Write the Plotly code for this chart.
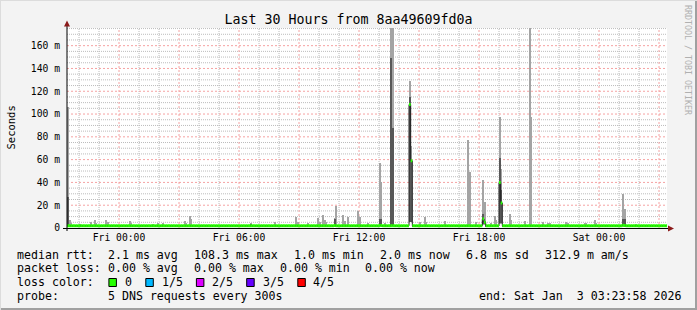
import plotly.graph_objects as go
import pandas as pd

# ---------------- data ----------------
END = pd.Timestamp("2026-01-03 03:23:58")
START = END - pd.Timedelta(hours=30)
STEP = pd.Timedelta(minutes=5)

# quiet-interval smoke (ms): sorted pings p1..p5 (p3 = median)
BASE_P1, BASE_P2, BASE_MED, BASE_P4, BASE_P5 = 1.2, 1.6, 2.0, 2.4, 3.0

# notable intervals (interval start) and their sorted ping values (ms)
EVENT_TIME = [
    "2026-01-01 21:25", "2026-01-01 21:30", "2026-01-01 21:35", "2026-01-01 22:00",
    "2026-01-01 22:35", "2026-01-01 22:45", "2026-01-01 22:50", "2026-01-01 23:20",
    "2026-01-01 23:25", "2026-01-02 00:30", "2026-01-02 00:35", "2026-01-02 01:05",
    "2026-01-02 01:40", "2026-01-02 01:55", "2026-01-02 02:10", "2026-01-02 03:15",
    "2026-01-02 03:20", "2026-01-02 03:30", "2026-01-02 03:35", "2026-01-02 06:35",
    "2026-01-02 07:45", "2026-01-02 08:50", "2026-01-02 08:55", "2026-01-02 09:25",
    "2026-01-02 09:55", "2026-01-02 10:00", "2026-01-02 10:10", "2026-01-02 10:15",
    "2026-01-02 10:20", "2026-01-02 10:45", "2026-01-02 10:50", "2026-01-02 11:10",
    "2026-01-02 11:15", "2026-01-02 11:25", "2026-01-02 11:55", "2026-01-02 12:00",
    "2026-01-02 12:25", "2026-01-02 13:00", "2026-01-02 13:05", "2026-01-02 13:15",
    "2026-01-02 13:35", "2026-01-02 13:40", "2026-01-02 14:30", "2026-01-02 14:35",
    "2026-01-02 15:00", "2026-01-02 15:15", "2026-01-02 15:20", "2026-01-02 16:15",
    "2026-01-02 17:25", "2026-01-02 17:30", "2026-01-02 17:50", "2026-01-02 18:10",
    "2026-01-02 18:15", "2026-01-02 18:35", "2026-01-02 18:45", "2026-01-02 18:50",
    "2026-01-02 19:00", "2026-01-02 19:05", "2026-01-02 19:30", "2026-01-02 19:35",
    "2026-01-02 20:00", "2026-01-02 20:15", "2026-01-02 20:30", "2026-01-02 20:35",
    "2026-01-02 21:10", "2026-01-02 21:25", "2026-01-02 21:30", "2026-01-02 22:20",
    "2026-01-02 22:25", "2026-01-02 23:15", "2026-01-02 23:20", "2026-01-02 23:45",
    "2026-01-02 23:50", "2026-01-03 01:10", "2026-01-03 01:15", "2026-01-03 01:50",
]
EVENT_P5 = [
    106, 7, 4.6, 3.5, 5, 7, 4, 7, 5, 6, 4.5, 3, 3.5, 4, 4, 6.4, 4, 10.5, 7.5, 4.6,
    5.5, 10, 5, 4, 8.7, 5, 11.4, 7, 5.5, 8.5, 19, 11.4, 6, 9.6, 15, 10, 4, 57, 40, 4,
    190, 190, 129, 72, 5, 9.6, 5, 6, 77, 49, 5, 42, 23, 4, 10.5, 7, 97, 51.6, 12, 7,
    3, 6, 190, 97, 5.5, 4, 4, 5, 4, 4.6, 4, 7, 4, 29.5, 16.6, 3.5,
]
EVENT_P4 = [
    27, 2.6, 2.5, 2.4, 2.4, 2.6, 2.4, 2.6, 2.4, 2.5, 2.4, 2.4, 2.4, 2.4, 2.4, 2.6, 2.4, 2.8, 2.6, 3.5,
    2.5, 2.8, 2.5, 2.4, 2.6, 2.4, 2.8, 2.6, 2.5, 7.8, 2.8, 2.8, 2.5, 2.6, 2.8, 2.6, 2.4, 8, 8, 2.4,
    149, 88, 115, 60, 2.4, 2.6, 2.4, 2.5, 2.8, 2.8, 2.4, 12, 6, 2.4, 2.8, 2.6, 61.5, 33, 2.8, 2.6,
    2.4, 2.5, 2.4, 2.4, 3, 2.4, 2.4, 2.5, 2.4, 2.5, 2.4, 2.6, 2.4, 7.6, 7.6, 2.4,
]
EVENT_MED = [
    2.0, 2.0, 2.0, 2.0, 2.0, 2.0, 2.0, 2.0, 2.0, 2.0, 2.0, 2.0, 2.0, 2.0, 2.0, 2.0, 2.0, 2.0, 2.0, 2.0,
    2.0, 2.0, 2.0, 2.0, 2.0, 2.0, 2.0, 2.0, 2.0, 2.2, 2.0, 2.0, 2.0, 2.0, 2.0, 2.0, 2.0, 2.2, 2.2, 2.0,
    2.0, 2.0, 108.3, 59, 2.0, 2.0, 2.0, 2.0, 2.0, 2.0, 2.0, 8, 5, 2.0, 2.0, 2.0, 40, 22, 2.0, 2.0,
    2.0, 2.0, 2.0, 2.0, 2.0, 2.0, 2.0, 2.0, 2.0, 2.0, 2.0, 2.0, 2.0, 2.4, 2.2, 2.0,
]
EVENT_P2 = [
    1.6, 1.6, 1.6, 1.6, 1.6, 1.6, 1.6, 1.6, 1.6, 1.6, 1.6, 1.6, 1.6, 1.6, 1.6, 1.6, 1.6, 1.6, 1.6, 1.6,
    1.6, 1.6, 1.6, 1.6, 1.6, 1.6, 1.6, 1.6, 1.6, 1.6, 1.6, 1.6, 1.6, 1.6, 1.6, 1.6, 1.6, 1.6, 1.6, 1.6,
    1.6, 1.6, 5.5, 5.5, 1.6, 1.6, 1.6, 1.6, 1.6, 1.6, 1.6, 3.5, 3.5, 1.6, 1.6, 1.6, 4, 4, 1.6, 1.6,
    1.6, 1.6, 1.6, 1.6, 1.6, 1.6, 1.6, 1.6, 1.6, 1.6, 1.6, 1.6, 1.6, 1.6, 1.6, 1.6,
]
EVENT_P1 = [
    1.2, 1.2, 1.2, 1.2, 1.2, 1.2, 1.2, 1.2, 1.2, 1.2, 1.2, 1.2, 1.2, 1.2, 1.2, 1.2, 1.2, 1.2, 1.2, 1.2,
    1.2, 1.2, 1.2, 1.2, 1.2, 1.2, 1.2, 1.2, 1.2, 1.2, 1.2, 1.2, 1.2, 1.2, 1.2, 1.2, 1.2, 1.2, 1.2, 1.2,
    1.2, 1.2, 5.0, 5.0, 1.2, 1.2, 1.2, 1.2, 1.2, 1.2, 1.2, 3.0, 3.0, 1.2, 1.2, 1.2, 3.5, 3.5, 1.2, 1.2,
    1.2, 1.2, 1.2, 1.2, 1.2, 1.2, 1.2, 1.2, 1.2, 1.2, 1.2, 1.2, 1.2, 1.2, 1.2, 1.2,
]

X_MAJOR_TICKS = ["2026-01-02 00:00", "2026-01-02 03:00", "2026-01-02 06:00", "2026-01-02 09:00",
                 "2026-01-02 12:00", "2026-01-02 15:00", "2026-01-02 18:00", "2026-01-02 21:00",
                 "2026-01-03 00:00", "2026-01-03 03:00"]
X_TICK_TEXT = ["Fri 00:00", "", "Fri 06:00", "", "Fri 12:00", "", "Fri 18:00", "", "Sat 00:00", ""]
Y_TICKS = [0, 20, 40, 60, 80, 100, 120, 140, 160]
Y_TICK_TEXT = ["0", "20 m", "40 m", "60 m", "80 m", "100 m", "120 m", "140 m", "160 m"]

LOSS_LABELS = ["0", "1/5", "2/5", "3/5", "4/5"]
LOSS_COLORS = ["#26ff00", "#00b8ff", "#dd00ff", "#6600ff", "#ff0000"]

LEGEND_LINE1 = [("median rtt:", 15.6), ("2.1 ms avg", 106.7), ("108.3 ms max", 193.3),
                ("1.0 ms min", 293.3), ("2.0 ms now", 379), ("6.8 ms sd", 465.3),
                ("312.9 m am/s", 544.4)]
LEGEND_LINE2 = [("packet loss:", 15.6), ("0.00 % avg", 106.7), ("0.00 % max", 193.3),
                ("0.00 % min", 279), ("0.00 % now", 364.4)]
LEGEND_LINE4 = [("probe:", 15.6), ("5 DNS requests every 300s", 106.7),
                ("end: Sat Jan  3 03:23:58 2026", 477.8)]

# ---------------- assemble per-step series ----------------
steps = pd.date_range("2026-01-01 21:20", "2026-01-03 03:20", freq="5min")
ev = {pd.Timestamp(t): (a, b, c, d, e) for t, a, b, c, d, e in
      zip(EVENT_TIME, EVENT_P1, EVENT_P2, EVENT_MED, EVENT_P4, EVENT_P5)}
p1, p2, med, p4, p5 = [], [], [], [], []
for t in steps:
    v = ev.get(t, (BASE_P1, BASE_P2, BASE_MED, BASE_P4, BASE_P5))
    p1.append(v[0]); p2.append(v[1]); med.append(v[2]); p4.append(v[3]); p5.append(v[4])

centers = [t + STEP / 2 for t in steps]
W = STEP.total_seconds() * 1000

fig = go.Figure()
fig.add_trace(go.Bar(x=centers, y=[b - a for a, b in zip(p1, p5)], base=p1, width=W,
                     marker=dict(color="#a4a4a4", line=dict(width=0)), hoverinfo="skip"))
fig.add_trace(go.Bar(x=centers, y=[b - a for a, b in zip(p2, p4)], base=p2, width=W,
                     marker=dict(color="#585858", line=dict(width=0)), hoverinfo="skip"))
# dark median line (with vertical connectors)
fig.add_trace(go.Scatter(x=list(steps) + [steps[-1] + STEP], y=med + [med[-1]], mode="lines",
                         line=dict(color="#202020", width=1, shape="hv"), hoverinfo="skip"))
# loss-coloured median segments
gx, gy = [], []
for t, m in zip(steps, med):
    gx += [t, t + STEP, None]
    gy += [m, m, None]
fig.add_trace(go.Scatter(x=gx, y=gy, mode="lines", line=dict(color=LOSS_COLORS[0], width=3),
                         hoverinfo="skip"))

# ---------------- layout ----------------
L, R, T, B, WD, HT = 67, 30, 28, 82, 697, 310
PW, PH = WD - L - R, HT - T - B


def PX(px):
    return (px - L) / PW


def PY(py):
    return (T + PH - py) / PH


FONT = "DejaVu Sans Mono"
MAJOR_GRID = "#f5a2a2"
MINOR_GRID = "#bcbcbc"
Y_MAX = 175.5

x_minor = [t for t in pd.date_range("2026-01-01 22:00", "2026-01-03 03:00", freq="1h")
           if t.hour % 3 != 0]
y_minor = [v for v in range(5, 180, 5) if v % 20 != 0]

fig.update_layout(
    width=WD, height=HT, margin=dict(l=L, r=R, t=T, b=B),
    paper_bgcolor="#f3f3f3", plot_bgcolor="#ffffff", showlegend=False,
    barmode="overlay", bargap=0,
    font=dict(family=FONT, size=9.7, color="#000000"),
    title=dict(text="Last 30 Hours from 8aa49609fd0a", x=0.5, xanchor="center",
               xref="container", yref="container", y=1 - 19 / HT, yanchor="middle",
               font=dict(family=FONT, size=13.3, color="#000000")),
    xaxis=dict(type="date", range=[START, END], tickmode="array", tickvals=X_MAJOR_TICKS,
               ticktext=X_TICK_TEXT, showgrid=False, zeroline=False, showline=False,
               ticks="", ticklabelstandoff=2),
    yaxis=dict(range=[0, Y_MAX], tickmode="array", tickvals=Y_TICKS, ticktext=Y_TICK_TEXT,
               showgrid=False, zeroline=False, showline=False, ticks="", ticklabelstandoff=6),
)

shapes = []
# grid lines (positions from the axis scales)
for t in x_minor:
    shapes.append(dict(type="line", xref="x", yref="paper", x0=t, x1=t, y0=0, y1=1, layer="below",
                       line=dict(color=MINOR_GRID, width=1, dash="1px,1px")))
for v in y_minor:
    shapes.append(dict(type="line", xref="paper", yref="y", x0=0, x1=1, y0=v, y1=v, layer="below",
                       line=dict(color=MINOR_GRID, width=1, dash="1px,1px")))
for t in X_MAJOR_TICKS:
    shapes.append(dict(type="line", xref="x", yref="paper", x0=t, x1=t, y0=0, y1=1, layer="below",
                       line=dict(color=MAJOR_GRID, width=1, dash="2px,2px")))
for v in Y_TICKS[1:]:
    shapes.append(dict(type="line", xref="paper", yref="y", x0=0, x1=1, y0=v, y1=v, layer="below",
                       line=dict(color=MAJOR_GRID, width=1, dash="2px,2px")))

# axes lines extending to arrows
shapes.append(dict(type="line", xref="paper", yref="paper", x0=PX(63), x1=PX(669), y0=PY(228.5), y1=PY(228.5),
                   line=dict(color="#000000", width=1), layer="above"))
shapes.append(dict(type="line", xref="paper", yref="paper", x0=PX(67), x1=PX(67), y0=PY(231), y1=PY(24),
                   line=dict(color="#000000", width=1), layer="above"))
# arrows
shapes.append(dict(type="path", xref="paper", yref="paper",
                   path=f"M {PX(64)},{PY(26.5)} L {PX(70)},{PY(26.5)} L {PX(67)},{PY(20.5)} Z",
                   fillcolor="#8b1a1a", line=dict(width=0), layer="above"))
shapes.append(dict(type="path", xref="paper", yref="paper",
                   path=f"M {PX(668)},{PY(225.5)} L {PX(668)},{PY(231.5)} L {PX(674)},{PY(228.5)} Z",
                   fillcolor="#8b1a1a", line=dict(width=0), layer="above"))
# frame (3d look)
shapes.append(dict(type="line", xref="paper", yref="paper", x0=PX(0), x1=PX(WD), y0=PY(HT - 1), y1=PY(HT - 1),
                   line=dict(color="#a0a0a0", width=2)))
shapes.append(dict(type="line", xref="paper", yref="paper", x0=PX(WD - 1), x1=PX(WD - 1), y0=PY(0), y1=PY(HT),
                   line=dict(color="#a0a0a0", width=2)))
shapes.append(dict(type="line", xref="paper", yref="paper", x0=PX(0), x1=PX(WD), y0=PY(0.5), y1=PY(0.5),
                   line=dict(color="#dcdcdc", width=1)))
shapes.append(dict(type="line", xref="paper", yref="paper", x0=PX(0.5), x1=PX(0.5), y0=PY(0), y1=PY(HT),
                   line=dict(color="#dcdcdc", width=1)))

annotations = []
LEG_FONT = dict(family=FONT, size=11.6, color="#000000")


def add_text(txt, px, py):
    annotations.append(dict(text=txt, x=PX(px), y=PY(py), xref="paper", yref="paper",
                            xanchor="left", yanchor="middle", showarrow=False, font=LEG_FONT,
                            borderpad=0))


for txt, px in LEGEND_LINE1:
    add_text(txt, px, 254.5)
for txt, px in LEGEND_LINE2:
    add_text(txt, px, 268.3)
add_text("loss color:", 15.6, 282.1)
BOX_X = [108.9, 145.8, 196.4, 246.7, 297.8]
TXT_X = [123.6, 160.9, 211, 262, 312.4]
for lab, col, bx, tx in zip(LOSS_LABELS, LOSS_COLORS, BOX_X, TXT_X):
    shapes.append(dict(type="rect", xref="paper", yref="paper", x0=PX(bx), x1=PX(bx + 7.5),
                       y0=PY(278.5), y1=PY(286.5), fillcolor=col, line=dict(color="#000000", width=1)))
    add_text(lab, tx, 282.1)
for txt, px in LEGEND_LINE4:
    add_text(txt, px, 296)

# y axis title
annotations.append(dict(text="Seconds", x=PX(10.5), y=PY(128), xref="paper", yref="paper",
                        xanchor="center", yanchor="middle", textangle=-90, showarrow=False,
                        font=dict(family=FONT, size=10.5, color="#000000")))
# watermark
annotations.append(dict(text="RRDTOOL / TOBI OETIKER", x=PX(688), y=PY(60), xref="paper", yref="paper",
                        xanchor="center", yanchor="middle", textangle=90, showarrow=False,
                        font=dict(family=FONT, size=8.3, color="#b0b0b0")))

fig.update_layout(shapes=shapes, annotations=annotations)
fig.write_html("out.html")
